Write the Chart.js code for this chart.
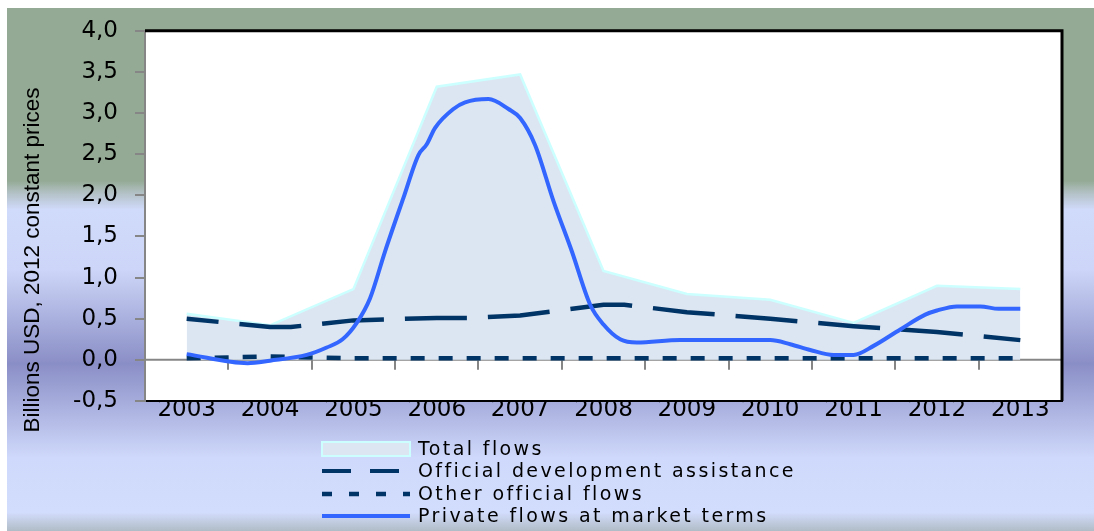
<!DOCTYPE html>
<html>
<head>
<meta charset="utf-8">
<script src="https://cdn.jsdelivr.net/npm/chart.js@4.4.1/dist/chart.umd.min.js"></script>
<style>
  html, body { margin: 0; padding: 0; background: #fff; }
  #chart { display: block; }
</style>
</head>
<body>
<canvas id="chart" width="1094" height="531" style="width:1094px;height:531px"></canvas>
<script>
// Data (billions USD, 2012 constant prices)
const years = [2003, 2004, 2005, 2006, 2007, 2008, 2009, 2010, 2011, 2012, 2013];
const totalFlows = [0.56, 0.42, 0.86, 3.32, 3.47, 1.08, 0.80, 0.73, 0.45, 0.90, 0.86];

const odaYears = [2003, 2004, 2004.25, 2005, 2006, 2006.4, 2007, 2008, 2008.25, 2009, 2010, 2011, 2012, 2013];
const odaValues = [0.50, 0.40, 0.40, 0.48, 0.51, 0.51, 0.54, 0.67, 0.67, 0.58, 0.50, 0.41, 0.34, 0.24];

const otherOfficial = [0.02, 0.04, 0.02, 0.02, 0.02, 0.02, 0.02, 0.02, 0.02, 0.02, 0.02];

const privateYears = [2003, 2003.73, 2004, 2004.44, 2004.68, 2004.87, 2005.04, 2005.2, 2005.38, 2005.6,
  2005.78, 2005.88, 2005.98, 2006.2, 2006.34, 2006.62, 2006.86, 2007, 2007.18, 2007.4,
  2007.62, 2007.84, 2008, 2008.2, 2008.4, 2008.92, 2010, 2010.24, 2010.48, 2010.76,
  2011, 2011.24, 2011.56, 2011.86, 2012, 2012.24, 2012.52, 2012.74, 2013];
const privateValues = [0.07, -0.04, -0.01, 0.06, 0.15, 0.25, 0.45, 0.75, 1.32, 1.97,
  2.49, 2.62, 2.82, 3.05, 3.13, 3.17, 3.05, 2.94, 2.61, 1.93,
  1.32, 0.67, 0.43, 0.25, 0.21, 0.24, 0.24, 0.19, 0.12, 0.06,
  0.06, 0.17, 0.37, 0.55, 0.60, 0.65, 0.65, 0.62, 0.62];

const yTicks = [-0.5, 0, 0.5, 1, 1.5, 2, 2.5, 3, 3.5, 4];
const yTitle = 'Billions USD, 2012 constant prices';
const legendLabels = ['Total flows', 'Official development assistance', 'Other official flows', 'Private flows at market terms'];

const toPoints = (xs, ys) => xs.map((x, i) => ({ x: x, y: ys[i] }));

// Colours
const cTotalFill = '#dce6f2';
const cTotalBorder = '#ccffff';
const cNavy = '#003366';
const cPrivate = '#3366ff';
const cAxis = '#868686';

// background, plot area, zero line, frame, legend
const decor = {
  id: 'decor',
  beforeDraw(chart) {
    const ctx = chart.ctx, a = chart.chartArea;
    const W = chart.width, H = chart.height;
    ctx.save();
    ctx.fillStyle = '#ffffff';
    ctx.fillRect(0, 0, W, H);
    const g = ctx.createLinearGradient(0, 8, 0, H);
    g.addColorStop(0, '#94aa94');
    g.addColorStop(0.33, '#94aa94');
    g.addColorStop(0.355, '#b4c2c8');
    g.addColorStop(0.385, '#d0dafa');
    g.addColorStop(0.5, '#cdd6f8');
    g.addColorStop(0.68, '#8a8ec6');
    g.addColorStop(0.86, '#cfd9fb');
    g.addColorStop(0.965, '#d2dcfc');
    g.addColorStop(1, '#b0bcc6');
    ctx.fillStyle = g;
    ctx.fillRect(7, 8, W - 7, H - 8);
    ctx.fillStyle = '#ffffff';
    ctx.fillRect(a.left, a.top, a.right - a.left, a.bottom - a.top);

    // y axis title
    ctx.fillStyle = '#000';
    ctx.font = '22.5px "Liberation Sans", Arial, sans-serif';
    ctx.textAlign = 'center';
    ctx.textBaseline = 'middle';
    ctx.translate(33, 260);
    ctx.rotate(-Math.PI / 2);
    ctx.fillText(yTitle, 0, 0);
    ctx.restore();
  },
  beforeDatasetsDraw(chart) {
    const ctx = chart.ctx, a = chart.chartArea;
    const x = chart.scales.x, y = chart.scales.y;
    const y0 = y.getPixelForValue(0);
    ctx.save();
    ctx.strokeStyle = cAxis;
    ctx.lineWidth = 2;
    ctx.beginPath();
    ctx.moveTo(a.left, y0);
    ctx.lineTo(a.right, y0);
    years.slice(0, -1).forEach(yr => {
      const px = Math.round(x.getPixelForValue(yr + 0.5));
      ctx.moveTo(px, y0);
      ctx.lineTo(px, y0 + 10);
    });
    ctx.stroke();
    ctx.restore();
  },
  afterDraw(chart) {
    const ctx = chart.ctx, a = chart.chartArea;
    ctx.save();
    // frame top and right
    ctx.strokeStyle = '#000';
    ctx.lineWidth = 3;
    ctx.beginPath();
    ctx.moveTo(a.left, a.top);
    ctx.lineTo(a.right, a.top);
    ctx.lineTo(a.right, a.bottom);
    ctx.stroke();

    // legend
    const sx0 = 322, sx1 = 410, tx = 418;
    const rows = [449, 471, 494, 516];
    ctx.fillStyle = cTotalFill;
    ctx.fillRect(sx0, rows[0] - 7, sx1 - sx0, 14);
    ctx.strokeStyle = cTotalBorder;
    ctx.lineWidth = 2;
    ctx.strokeRect(sx0, rows[0] - 7, sx1 - sx0, 14);

    ctx.lineWidth = 4;
    ctx.strokeStyle = cNavy;
    ctx.setLineDash([29, 19]);
    ctx.beginPath();
    ctx.moveTo(sx0, rows[1]);
    ctx.lineTo(sx1, rows[1]);
    ctx.stroke();

    ctx.lineWidth = 4.5;
    ctx.setLineDash([10, 17]);
    ctx.beginPath();
    ctx.moveTo(sx0, rows[2]);
    ctx.lineTo(sx1, rows[2]);
    ctx.stroke();

    ctx.setLineDash([]);
    ctx.lineWidth = 4;
    ctx.strokeStyle = cPrivate;
    ctx.beginPath();
    ctx.moveTo(sx0, rows[3]);
    ctx.lineTo(sx1, rows[3]);
    ctx.stroke();

    ctx.fillStyle = '#000';
    ctx.font = '19px "DejaVu Sans", Verdana, sans-serif';
    ctx.letterSpacing = '2.4px';
    ctx.textAlign = 'left';
    ctx.textBaseline = 'middle';
    legendLabels.forEach((t, i) => ctx.fillText(t, tx, rows[i] + 1));
    ctx.restore();
  }
};

new Chart(document.getElementById('chart'), {
  type: 'line',
  data: {
    datasets: [
      {
        label: legendLabels[0],
        data: toPoints(years, totalFlows),
        fill: 'origin',
        backgroundColor: cTotalFill,
        borderColor: cTotalBorder,
        borderWidth: 2.5,
        pointRadius: 0,
        tension: 0,
        order: 4
      },
      {
        label: legendLabels[1],
        data: toPoints(odaYears, odaValues),
        borderColor: cNavy,
        borderWidth: 4.5,
        borderDash: [62, 21],
        borderDashOffset: 30,
        pointRadius: 0,
        tension: 0,
        fill: false,
        order: 3
      },
      {
        label: legendLabels[2],
        data: toPoints(years, otherOfficial),
        borderColor: cNavy,
        borderWidth: 4.5,
        borderDash: [14, 14],
        pointRadius: 0,
        tension: 0,
        fill: false,
        order: 2
      },
      {
        label: legendLabels[3],
        data: toPoints(privateYears, privateValues),
        borderColor: cPrivate,
        borderWidth: 4,
        pointRadius: 0,
        cubicInterpolationMode: 'monotone',
        fill: false,
        order: 1
      }
    ]
  },
  options: {
    responsive: false,
    animation: false,
    layout: { padding: { left: 0, top: 30, right: 32, bottom: 0 } },
    plugins: {
      legend: { display: false },
      tooltip: { enabled: false }
    },
    scales: {
      x: {
        type: 'linear',
        min: years[0] - 0.5,
        max: years[years.length - 1] + 0.5,
        afterBuildTicks: s => { s.ticks = years.map(v => ({ value: v })); },
        afterFit: s => { s.height = 130; },
        grid: { drawOnChartArea: false, drawTicks: false },
        border: { color: '#000', width: 2 },
        ticks: {
          color: '#000',
          padding: -2,
          maxRotation: 0,
          autoSkip: false,
          font: { family: '"DejaVu Sans", Verdana, sans-serif', size: 23, lineHeight: 1 },
          callback: v => String(v)
        }
      },
      y: {
        min: yTicks[0],
        max: yTicks[yTicks.length - 1],
        afterBuildTicks: s => { s.ticks = yTicks.map(v => ({ value: v })); },
        afterFit: s => { s.width = 145; },
        grid: { drawOnChartArea: false, drawTicks: true, tickLength: 10, color: cAxis, lineWidth: 2 },
        border: { color: cAxis, width: 2 },
        ticks: {
          color: '#000',
          padding: 17,
          font: { family: '"DejaVu Sans", Verdana, sans-serif', size: 23 },
          callback: v => v.toFixed(1).replace('.', ',')
        }
      }
    }
  },
  plugins: [decor]
});
</script>
</body>
</html>
